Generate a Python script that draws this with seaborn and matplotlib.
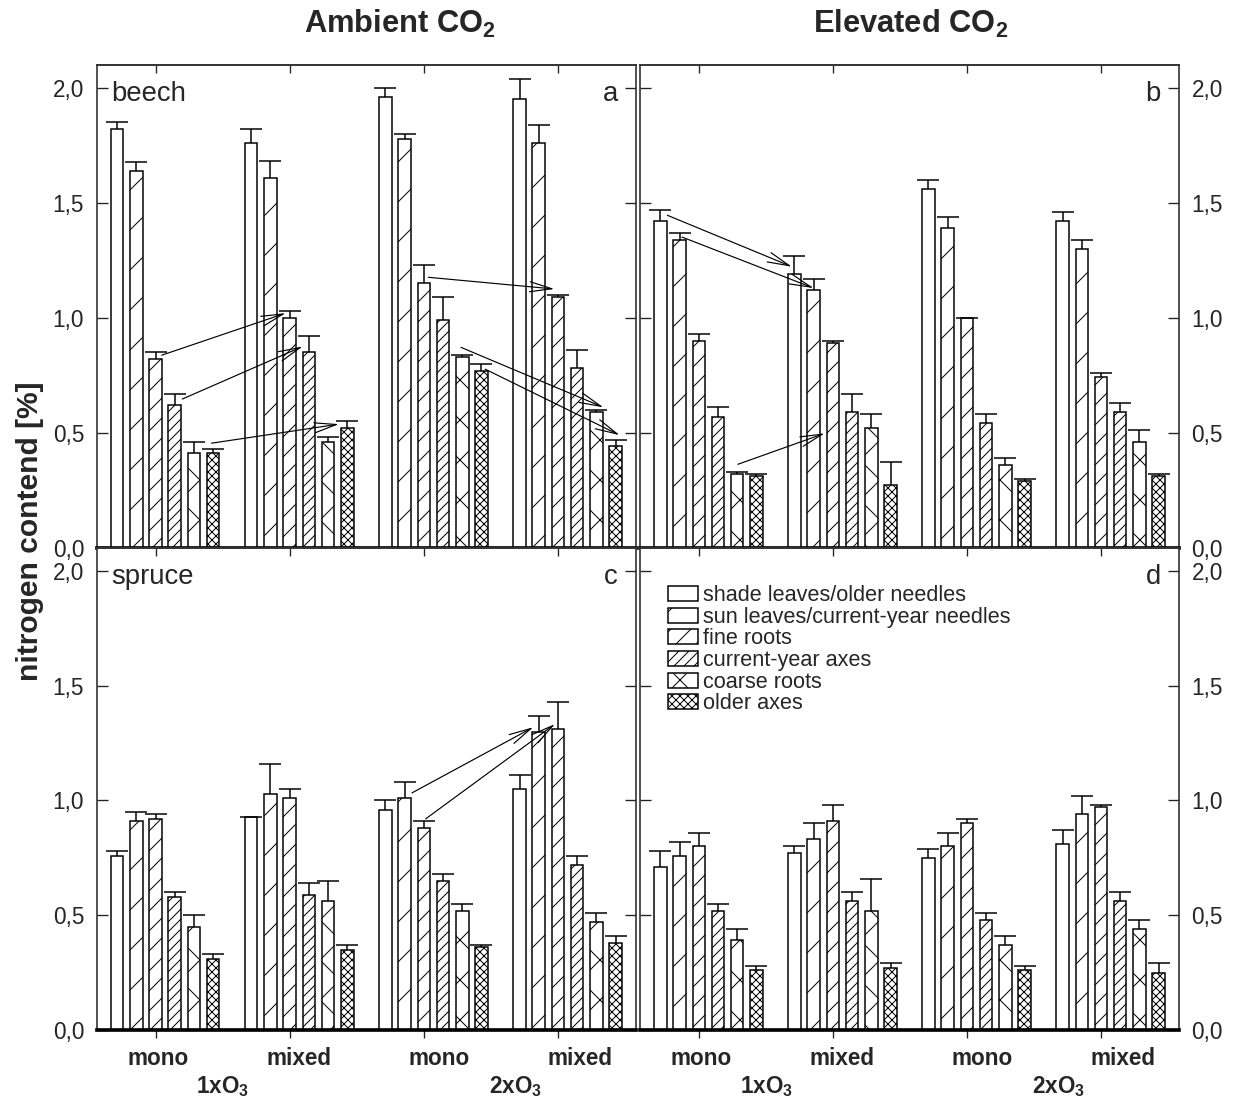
import numpy as np
import pandas as pd
import matplotlib
matplotlib.use("Agg")
import matplotlib.pyplot as plt
import matplotlib.transforms as mtransforms
import seaborn as sns

# ---------------- data ----------------
groups = ["mono 1xO3", "mixed 1xO3", "mono 2xO3", "mixed 2xO3"]
group_labels = ["mono", "mixed", "mono", "mixed"]
ozone_labels = ["1xO$_3$", "2xO$_3$"]
tissues = ["shade leaves/older needles", "sun leaves/current-year needles",
           "fine roots", "current-year axes", "coarse roots", "older axes"]
hatches = ["", "/", "//", "////", "x", "xxxxx"]
ytick_vals = [0.0, 0.5, 1.0, 1.5, 2.0]
ytick_labels = ["0,0", "0,5", "1,0", "1,5", "2,0"]
titles = ["Ambient CO$_2$", "Elevated CO$_2$"]

# rows = tissues, columns = groups
beech_ambient = [[1.82, 1.76, 1.96, 1.95],
                 [1.64, 1.61, 1.78, 1.76],
                 [0.82, 1.00, 1.15, 1.09],
                 [0.62, 0.85, 0.99, 0.78],
                 [0.41, 0.46, 0.83, 0.59],
                 [0.41, 0.52, 0.77, 0.44]]
beech_ambient_se = [[0.03, 0.06, 0.04, 0.09],
                    [0.04, 0.07, 0.02, 0.08],
                    [0.03, 0.03, 0.08, 0.01],
                    [0.05, 0.07, 0.10, 0.08],
                    [0.05, 0.02, 0.01, 0.01],
                    [0.02, 0.03, 0.03, 0.03]]
beech_elevated = [[1.42, 1.19, 1.56, 1.42],
                  [1.34, 1.12, 1.39, 1.30],
                  [0.90, 0.89, 1.00, 0.74],
                  [0.57, 0.59, 0.54, 0.59],
                  [0.32, 0.52, 0.36, 0.46],
                  [0.31, 0.27, 0.29, 0.31]]
beech_elevated_se = [[0.05, 0.08, 0.04, 0.04],
                     [0.03, 0.05, 0.05, 0.04],
                     [0.03, 0.01, 0.00, 0.02],
                     [0.04, 0.08, 0.04, 0.04],
                     [0.01, 0.06, 0.03, 0.05],
                     [0.01, 0.10, 0.01, 0.01]]
spruce_ambient = [[0.76, 0.93, 0.96, 1.05],
                  [0.91, 1.03, 1.01, 1.30],
                  [0.92, 1.01, 0.88, 1.31],
                  [0.58, 0.59, 0.65, 0.72],
                  [0.45, 0.56, 0.52, 0.47],
                  [0.31, 0.35, 0.36, 0.38]]
spruce_ambient_se = [[0.02, 0.00, 0.04, 0.06],
                     [0.04, 0.13, 0.07, 0.07],
                     [0.02, 0.04, 0.03, 0.12],
                     [0.02, 0.05, 0.03, 0.04],
                     [0.05, 0.09, 0.03, 0.04],
                     [0.02, 0.02, 0.01, 0.03]]
spruce_elevated = [[0.71, 0.77, 0.75, 0.81],
                   [0.76, 0.83, 0.80, 0.94],
                   [0.80, 0.91, 0.90, 0.97],
                   [0.52, 0.56, 0.48, 0.56],
                   [0.39, 0.52, 0.37, 0.44],
                   [0.26, 0.27, 0.26, 0.25]]
spruce_elevated_se = [[0.07, 0.03, 0.04, 0.06],
                      [0.06, 0.07, 0.06, 0.08],
                      [0.06, 0.07, 0.02, 0.01],
                      [0.03, 0.04, 0.03, 0.04],
                      [0.05, 0.14, 0.04, 0.04],
                      [0.02, 0.02, 0.02, 0.04]]

# arrows: (group_from, tissue_from, frac_along_bar, y_from, group_to, tissue_to, frac, y_to)
arrows_a = [(0, 2, 1.00, 0.837, 1, 2, 0.18, 1.020),
            (0, 3, 1.10, 0.646, 1, 3, 0.00, 0.875),
            (0, 5, 0.37, 0.454, 1, 5, -0.17, 0.537),
            (2, 2, 0.86, 1.176, 3, 2, 0.22, 1.125),
            (2, 4, 0.40, 0.871, 3, 4, 1.06, 0.610),
            (2, 5, 0.80, 0.776, 3, 5, 0.82, 0.489)]
arrows_b = [(0, 0, 1.06, 1.446, 1, 0, 0.30, 1.222),
            (0, 1, 0.70, 1.351, 1, 1, 0.50, 1.129),
            (0, 4, 0.55, 0.362, 1, 2, -0.15, 0.497)]
arrows_c = [(2, 1, 1.09, 1.033, 3, 1, 0.06, 1.319),
            (2, 2, 0.65, 0.920, 3, 2, 0.26, 1.333)]
arrows_d = []

# ---------------- style ----------------
sns.set_theme(style="white")
plt.rcParams["font.family"] = ["Liberation Sans", "DejaVu Sans"]
plt.rcParams["mathtext.fontset"] = "custom"
plt.rcParams["mathtext.rm"] = "Liberation Sans"
plt.rcParams["mathtext.bf"] = "Liberation Sans:bold"
plt.rcParams["mathtext.it"] = "Liberation Sans:italic"
plt.rcParams["mathtext.default"] = "bf"
plt.rcParams["hatch.linewidth"] = 0.6
plt.rcParams["hatch.color"] = "black"

DPI = 120
W, H = 1235, 1102
fig = plt.figure(figsize=(W / DPI, H / DPI), dpi=DPI)


def box(l, r, t, b):
    return [l / W, 1 - b / H, (r - l) / W, (b - t) / H]


panels = [
    ("a", box(96.7, 636, 65, 547.5), beech_ambient, beech_ambient_se, arrows_a, "left", "beech", False),
    ("b", box(640, 1179, 65, 547.5), beech_elevated, beech_elevated_se, arrows_b, "right", "", False),
    ("c", box(96.7, 636, 548, 1030), spruce_ambient, spruce_ambient_se, arrows_c, "left", "spruce", True),
    ("d", box(640, 1179, 548, 1030), spruce_elevated, spruce_elevated_se, arrows_d, "right", "", True),
]

tick_pos = [g - 0.07 for g in range(len(groups))]

for letter, rect, means, errs, arrows, side, species, bottom_row in panels:
    ax = fig.add_axes(rect)
    rows = []
    for ti, t in enumerate(tissues):
        for gi, g in enumerate(groups):
            rows.append({"group": g, "tissue": t, "value": means[ti][gi]})
    df = pd.DataFrame(rows)
    sns.barplot(data=df, x="group", y="value", hue="tissue", order=groups,
                hue_order=tissues, palette=["white"] * len(tissues), saturation=1,
                width=0.86, gap=0.35, edgecolor="black", linewidth=0.9,
                errorbar=None, legend=False, ax=ax)

    bar_containers = list(ax.containers)
    bars_by_tissue = []
    for ti, cont in enumerate(bar_containers):
        bars = sorted(list(cont), key=lambda p: p.get_x())
        bars_by_tissue.append(bars)
        for p in bars:
            p.set_hatch(hatches[ti])
        xs = [p.get_x() + p.get_width() / 2 for p in bars]
        eb = ax.errorbar(xs, means[ti], yerr=[np.zeros(len(xs)), errs[ti]], fmt="none",
                         ecolor="black", elinewidth=0.9, capsize=6.5, capthick=0.9, zorder=3)
        eb[1][0].set_visible(False)

    for g0, t0, f0, y0, g1, t1, f1, y1 in arrows:
        p0 = bars_by_tissue[t0][g0]
        p1 = bars_by_tissue[t1][g1]
        x0 = p0.get_x() + f0 * p0.get_width()
        x1 = p1.get_x() + f1 * p1.get_width()
        ax.annotate("", xy=(x1, y1), xytext=(x0, y0),
                    arrowprops=dict(arrowstyle="->,head_length=1.1,head_width=0.25",
                                    lw=0.7, color="black", shrinkA=0, shrinkB=0))

    ax.set_xlim(-0.51, 3.51)
    ax.set_ylim(0, 2.1)
    ax.set_xlabel("")
    ax.set_ylabel("")
    ax.set_xticks(tick_pos)
    ax.set_xticklabels([])
    ax.tick_params(axis="x", direction="out", length=5, width=0.8, bottom=True, top=False,
                   labelbottom=False, color="#222222")
    sec = ax.secondary_xaxis("top")
    sec.set_xticks(tick_pos)
    sec.set_xticklabels([])
    sec.tick_params(direction="in", length=5, width=0.8, color="#222222")
    sec.spines["top"].set_linewidth(1.0)
    sec.spines["top"].set_color("#333333")

    ax.set_yticks(ytick_vals)
    ax.set_yticklabels(ytick_labels)
    ax.tick_params(axis="y", direction="in", length=6.6, width=0.8, left=True, right=True,
                   labelleft=(side == "left"), labelright=(side == "right"),
                   labelsize=13.5, pad=7.5, color="#222222")
    for s in ax.spines.values():
        s.set_visible(True)
        s.set_linewidth(1.0)
        s.set_color("#333333")
    ax.spines["bottom"].set_linewidth(2.2)
    ax.spines["bottom"].set_color("black")

    ax.text(0.966, 0.926, letter, transform=ax.transAxes, ha="right", va="baseline", fontsize=16.5)
    if species:
        ax.text(0.027, 0.926, species, transform=ax.transAxes, ha="left", va="baseline", fontsize=16.5)

    if bottom_row:
        trans = mtransforms.blended_transform_factory(ax.transData, ax.transAxes)
        for gi, lab in enumerate(group_labels):
            ax.text(gi * 1.05 - 0.055, -0.0726, lab, transform=trans, ha="center",
                    va="baseline", fontsize=13.5, fontweight="bold")
        for oi, lab in enumerate(ozone_labels):
            ax.text(0.43 + oi * 2.18, -0.1307, lab, transform=trans, ha="center",
                    va="baseline", fontsize=13.5, fontweight="bold")

    if letter == "d":
        ax.legend(handles=bar_containers, labels=tissues, loc="upper left",
                  bbox_to_anchor=(0.052, 0.923), frameon=False, fontsize=13,
                  handlelength=1.38, handleheight=0.69, handletextpad=0.25,
                  labelspacing=0.03, borderpad=0, borderaxespad=0)

fig.text(400 / W, 1 - 33 / H, titles[0], ha="center", va="baseline", fontsize=18.5, fontweight="bold")
fig.text(911 / W, 1 - 33 / H, titles[1], ha="center", va="baseline", fontsize=18.5, fontweight="bold")
fig.text(30 / W, 1 - 531 / H, "nitrogen contend [%]", rotation=90, ha="center", va="center",
         fontsize=18, fontweight="bold")

fig.savefig("out.png", dpi=DPI)
